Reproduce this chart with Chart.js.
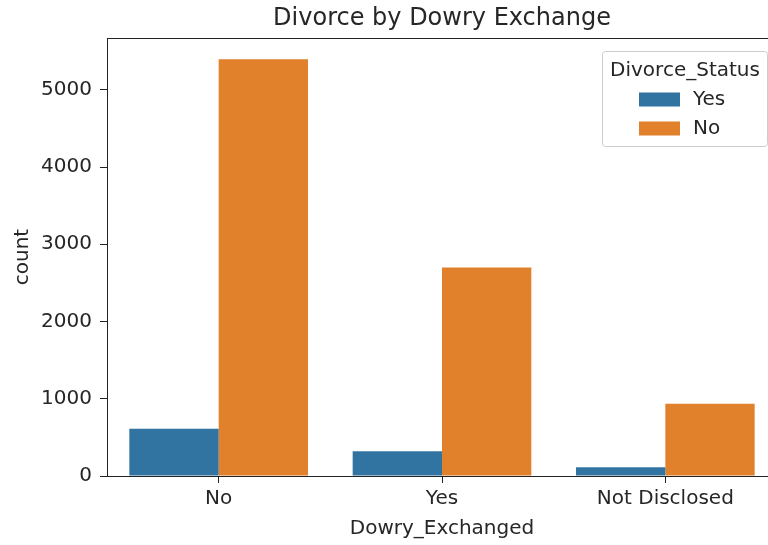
<!DOCTYPE html>
<html>
<head>
<meta charset="utf-8">
<script src="https://cdn.jsdelivr.net/npm/chart.js@4.4.0/dist/chart.umd.min.js"></script>
<style>
html,body{margin:0;padding:0;background:#fff;overflow:hidden;}
#wrap{width:768px;height:545px;overflow:hidden;position:relative;}
#c{position:absolute;left:0;top:0;}
</style>
</head>
<body>
<div id="wrap"><canvas id="c" width="790" height="545"></canvas></div>
<script>
const categories = ['No', 'Yes', 'Not Disclosed'];
const seriesNames = ['Yes', 'No'];
const divorceYes = [612, 322, 112];
const divorceNo = [5395, 2700, 934];
const yTicks = [0, 1000, 2000, 3000, 4000, 5000];
const yMax = 5670;

const FONT = "'DejaVu Sans', sans-serif";
const TICK_SIZE = 20;
const TEXT = '#262626';

const boxPlugin = {
  id: 'boxLegend',
  afterDraw(chart) {
    const ctx = chart.ctx, a = chart.chartArea;
    ctx.save();
    ctx.strokeStyle = '#222';
    ctx.lineWidth = 1;
    ctx.strokeRect(Math.round(a.left) + 0.5, Math.round(a.top) + 0.5, Math.round(a.right - a.left), Math.round(a.bottom - a.top));
    // legend (upper right, inside axes)
    const lw = 165, lh = 95;
    const lx = Math.round(a.right - 10 - lw) + 0.5, ly = Math.round(a.top + 13) + 0.5;
    ctx.fillStyle = 'rgba(255,255,255,0.8)';
    ctx.strokeStyle = '#cccccc';
    ctx.beginPath();
    if (ctx.roundRect) ctx.roundRect(lx, ly, lw, lh, 3); else ctx.rect(lx, ly, lw, lh);
    ctx.fill(); ctx.stroke();
    ctx.fillStyle = TEXT;
    ctx.font = TICK_SIZE + 'px ' + FONT;
    ctx.textBaseline = 'middle';
    ctx.textAlign = 'center';
    ctx.fillText('Divorce_Status', lx + lw / 2, ly + 19);
    ctx.textAlign = 'left';
    chart.data.datasets.forEach((ds, i) => {
      const yc = ly + 48 + i * 29;
      ctx.fillStyle = ds.backgroundColor;
      ctx.fillRect(lx + 36.5, yc - 7, 41, 14);
      ctx.fillStyle = TEXT;
      ctx.fillText(ds.label, lx + 90.5, yc);
    });
    ctx.restore();
  }
};

new Chart(document.getElementById('c'), {
  type: 'bar',
  data: {
    labels: categories,
    datasets: [
      { label: seriesNames[0], data: divorceYes, backgroundColor: '#3274a1', borderWidth: 0 },
      { label: seriesNames[1], data: divorceNo, backgroundColor: '#e1812c', borderWidth: 0 }
    ]
  },
  options: {
    responsive: false,
    animation: false,
    layout: { padding: { top: 0, right: 13, bottom: 0, left: 0 } },
    datasets: { bar: { categoryPercentage: 0.8, barPercentage: 1.0 } },
    plugins: {
      legend: { display: false },
      tooltip: { enabled: false },
      title: {
        display: true,
        fullSize: false,
        text: 'Divorce by Dowry Exchange',
        color: TEXT,
        font: { family: FONT, size: 24, weight: 'normal' },
        padding: { top: 4, bottom: 5.2 }
      }
    },
    scales: {
      x: {
        grid: { display: true, offset: false, drawOnChartArea: false, drawTicks: true, tickLength: 7, color: '#222', tickColor: '#222' },
        border: { display: true, color: '#222' },
        ticks: { color: TEXT, font: { family: FONT, size: TICK_SIZE }, padding: 4 },
        title: { display: true, text: 'Dowry_Exchanged', color: TEXT, font: { family: FONT, size: TICK_SIZE }, padding: { top: 0, bottom: 4 } },
        afterFit(s) { s.height = 69; }
      },
      y: {
        min: 0,
        max: yMax,
        afterBuildTicks(s) { s.ticks = yTicks.map(v => ({ value: v })); },
        grid: { display: true, drawOnChartArea: false, drawTicks: true, tickLength: 7, color: '#222', tickColor: '#222' },
        border: { display: true, color: '#222' },
        ticks: { color: TEXT, font: { family: FONT, size: TICK_SIZE }, padding: 8, callback: v => String(v) },
        title: { display: true, text: 'count', color: TEXT, font: { family: FONT, size: TICK_SIZE }, padding: { top: 11, bottom: 0 } },
        afterFit(s) { s.width = 107; }
      }
    }
  },
  plugins: [boxPlugin]
});
</script>
</body>
</html>
